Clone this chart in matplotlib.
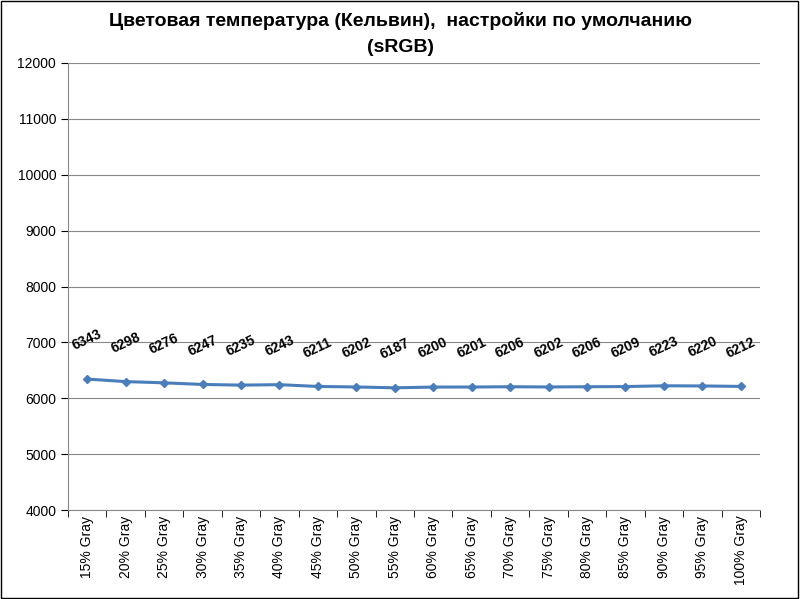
import matplotlib
matplotlib.use("Agg")
import matplotlib.pyplot as plt
from matplotlib.patches import Rectangle
plt.rcParams['font.family'] = ['Liberation Sans', 'DejaVu Sans']

categories = ["15% Gray","20% Gray","25% Gray","30% Gray","35% Gray","40% Gray","45% Gray","50% Gray",
              "55% Gray","60% Gray","65% Gray","70% Gray","75% Gray","80% Gray","85% Gray","90% Gray",
              "95% Gray","100% Gray"]
values = [6343,6298,6276,6247,6235,6243,6211,6202,6187,6200,6201,6206,6202,6206,6209,6223,6220,6212]

fig = plt.figure(figsize=(8.0,5.99), dpi=100)
ax = fig.add_axes([68/800, 1-510/599, 692/800, 447/599])
x = list(range(len(values)))
ax.plot(x, values, color="#4a7ebb", lw=2.2, marker="D", ms=4.5, mfc="#4a7ebb", mec="#4a7ebb")
for xi, v in zip(x, values):
    ax.annotate(str(v), (xi, v), xytext=(0, 28), textcoords="offset points", ha="center", va="center",
                rotation=25, fontsize=10, fontweight="bold")
ax.set_xlim(-0.5, len(values)-0.5)
ax.set_ylim(4000, 12000)
ax.set_yticks(range(4000, 12001, 1000))
ax.set_xticks(x)
ax.set_xticklabels(categories, rotation=90, fontsize=10)
ax.set_xticks([i-0.5 for i in range(len(values)+1)], minor=True)
ax.tick_params(axis="x", which="major", length=0, pad=4)
ax.tick_params(axis="x", which="minor", length=5)
ax.tick_params(axis="y", labelsize=10, length=5)
ax.grid(axis="y", color="#888888", lw=0.8)
ax.set_axisbelow(True)
for s in ["top","right"]:
    ax.spines[s].set_visible(False)
ax.spines["left"].set_color("#888888")
ax.spines["bottom"].set_color("#888888")
fig.text(0.5, 1-21/599, "Цветовая температура (Кельвин),  настройки по умолчанию", ha="center", va="center",
         fontsize=14, fontweight="bold")
fig.text(0.5, 1-47/599, "(sRGB)", ha="center", va="center", fontsize=14, fontweight="bold")
fig.patches.append(Rectangle((0.001,0.001),0.997,0.997, transform=fig.transFigure, fill=False, ec="black", lw=1))
fig.savefig("out.png", dpi=100)
